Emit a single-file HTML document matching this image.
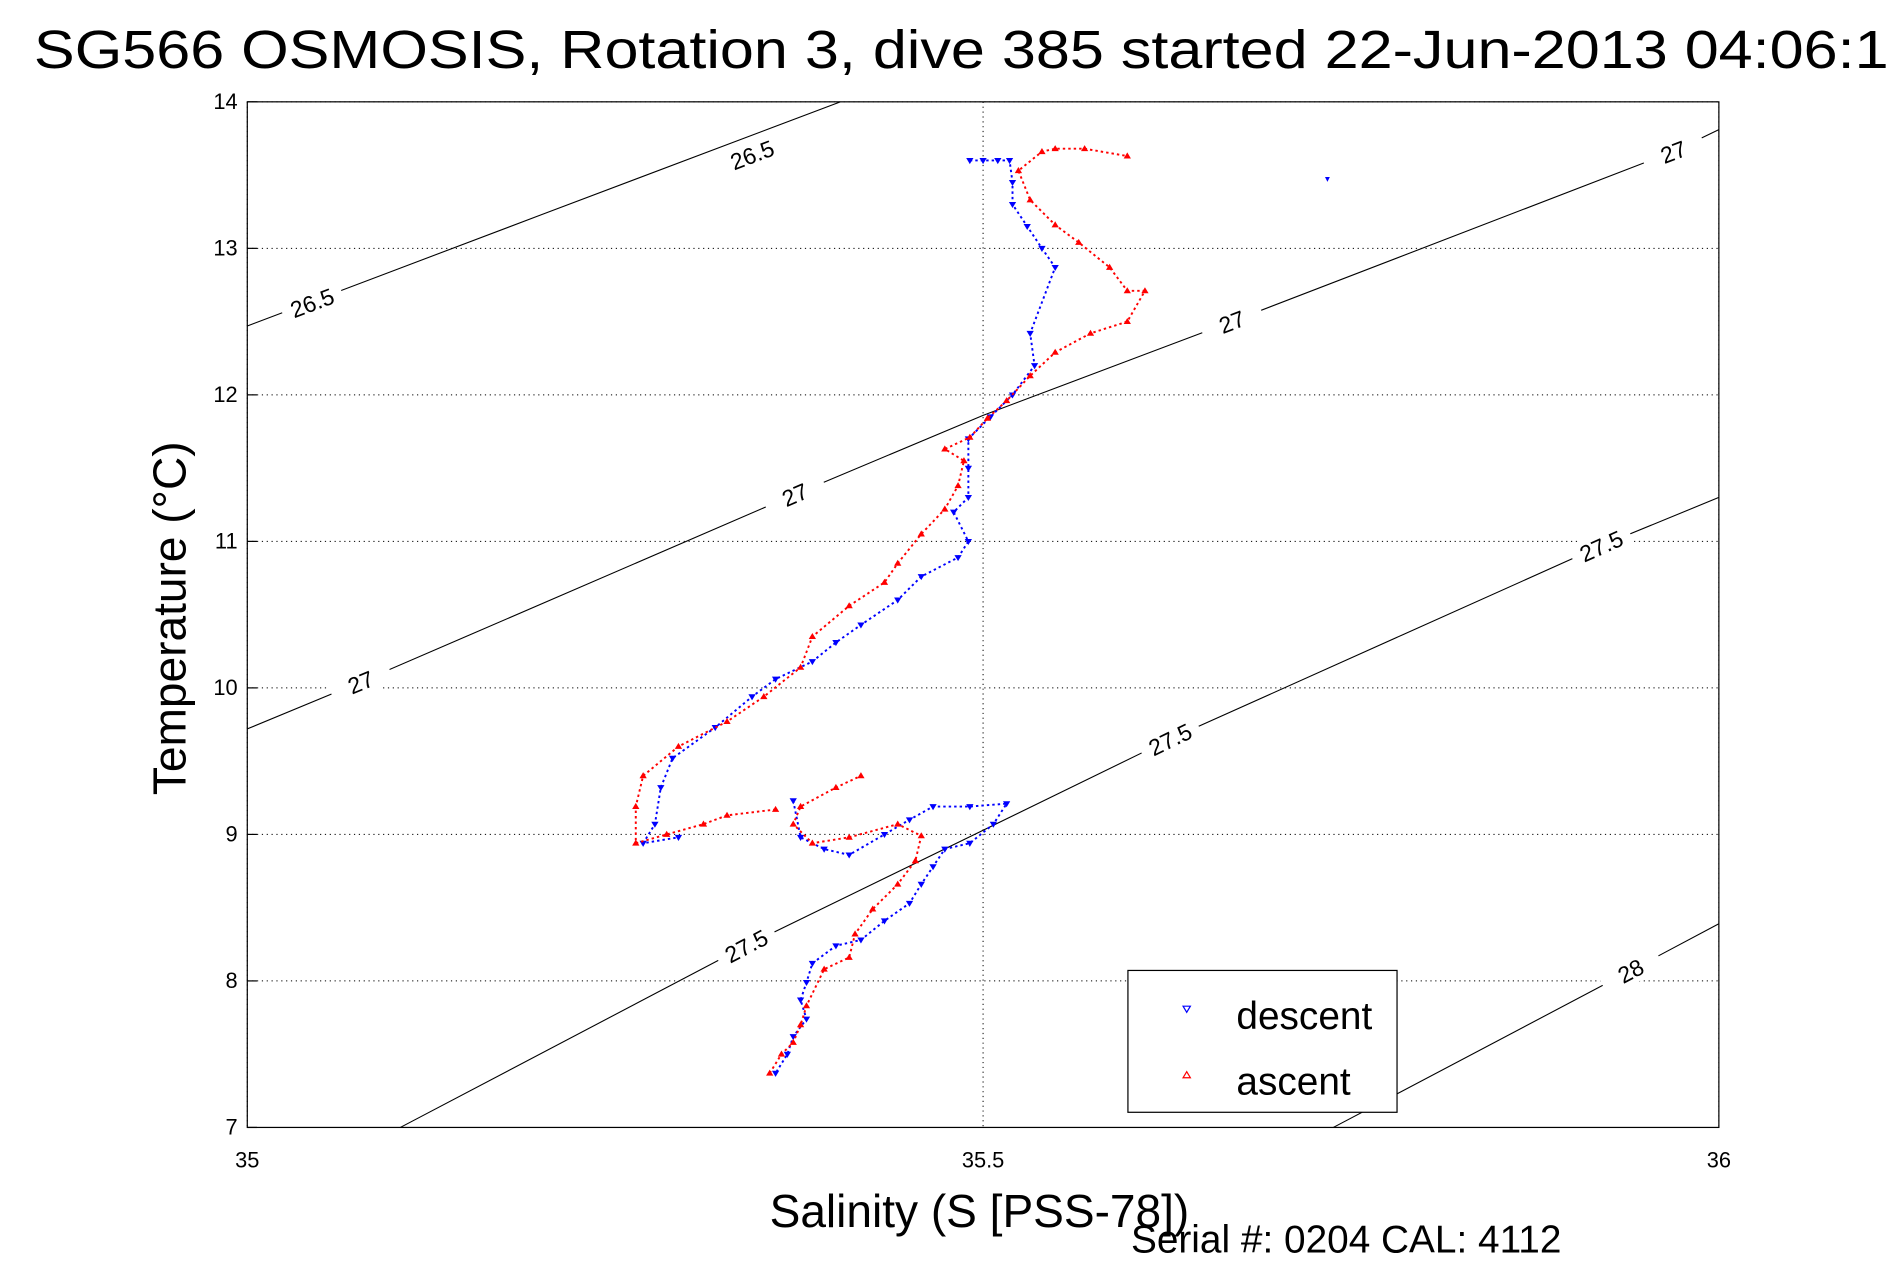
<!DOCTYPE html>
<html><head><meta charset="utf-8"><style>
html,body{margin:0;padding:0;background:#fff;}
svg{display:block;font-family:"Liberation Sans",sans-serif;}
</style></head><body>
<svg id="chart" width="1891" height="1262" viewBox="0 0 1560 1041" preserveAspectRatio="none" xmlns="http://www.w3.org/2000/svg">
<rect x="0" y="0" width="1560" height="1041" fill="#fff"/>
<text x="28" y="56" font-size="44" fill="#000" textLength="1530" lengthAdjust="spacingAndGlyphs">SG566 OSMOSIS, Rotation 3, dive 385 started 22-Jun-2013 04:06:1</text>
<g id="grid"></g>
<g id="contours"></g>
<g id="series"></g>
<g id="axes"></g>
<text x="808" y="1012" font-size="38" text-anchor="middle">Salinity (S [PSS-78])</text>
<text transform="translate(153,510) rotate(-90)" font-size="38" text-anchor="middle">Temperature (°C)</text>
<text x="933" y="1033" font-size="32">Serial #: 0204  CAL: 4112</text>
<g>
<rect x="930.5" y="800.5" width="222" height="117" fill="#fff" stroke="#000" stroke-width="1"/>
<path d="M976,830 L982,830 L979,835 Z" fill="none" stroke="#00f" stroke-width="1"/>
<text x="1020" y="849" font-size="32">descent</text>
<path d="M976,889 L982,889 L979,884 Z" fill="none" stroke="#f00" stroke-width="1"/>
<text x="1020" y="903" font-size="32">ascent</text>
</g>
</svg>
<script>
const xTicks=[35,35.5,36];
const yTicks=[7,8,9,10,11,12,13,14];
const descentS=[35.491,35.500,35.510,35.518,35.52,35.52,35.53,35.54,35.549,35.532,35.535,35.52,35.505,35.49,35.49,35.49,35.48,35.49,35.483,35.458,35.442,35.417,35.40,35.384,35.359,35.343,35.318,35.289,35.281,35.277,35.269,35.293];
const descentT=[13.6,13.6,13.6,13.6,13.45,13.3,13.15,13.0,12.87,12.42,12.2,12.0,11.85,11.7,11.5,11.3,11.2,11.0,10.89,10.76,10.6,10.43,10.31,10.18,10.06,9.94,9.73,9.52,9.32,9.07,8.94,8.98];
const descent2S=[35.371,35.376,35.392,35.409,35.433,35.45,35.466,35.491,35.516,35.507,35.491,35.474,35.466,35.458,35.45,35.433,35.417,35.40,35.384,35.38,35.376,35.38,35.371,35.367,35.359];
const descent2T=[9.23,8.98,8.90,8.86,9.0,9.1,9.19,9.19,9.21,9.07,8.94,8.9,8.78,8.66,8.53,8.41,8.28,8.24,8.12,7.99,7.87,7.74,7.62,7.50,7.37];
const strayS=[35.734];
const strayT=[13.47];
const ascentS=[35.355,35.363,35.371,35.376,35.38,35.392,35.409,35.413,35.425,35.442,35.454,35.458,35.442,35.409,35.384,35.371,35.376,35.40,35.417];
const ascentT=[7.37,7.5,7.58,7.70,7.83,8.08,8.16,8.32,8.49,8.66,8.82,8.99,9.07,8.98,8.94,9.07,9.19,9.32,9.4];
const ascent2S=[35.359,35.326,35.31,35.285,35.264,35.264,35.269,35.293,35.326,35.351,35.376,35.384,35.409,35.433,35.442,35.458,35.474,35.483,35.487,35.474,35.491,35.503,35.516,35.532,35.549,35.573,35.598,35.61,35.598,35.586,35.565,35.549,35.532,35.524,35.54,35.549,35.569,35.598];
const ascent2T=[9.17,9.13,9.07,9.0,8.94,9.19,9.40,9.60,9.77,9.94,10.14,10.35,10.56,10.72,10.85,11.05,11.22,11.38,11.55,11.63,11.71,11.84,11.96,12.13,12.29,12.42,12.50,12.71,12.71,12.87,13.04,13.16,13.33,13.53,13.66,13.68,13.68,13.63];
const contourLevels=["26.5","27","27.5","28"];
const contourS=[[35,35.2,35.403],[35,35.077,35.372,35.5,35.669,35.969,36],[35.104,35.339,35.627,35.92,36],[35.738,35.94,36]];
const contourT=[[12.47,13.23,14],[9.72,10.04,11.32,11.86,12.50,13.66,13.81],[7,8.24,9.65,10.97,11.30],[7,8.07,8.39]];
const labelS=[[35.044,35.343],[35.077,35.372,35.669,35.969],[35.339,35.627,35.92],[35.94]];
const labelT=[[12.63,13.64],[10.04,11.32,12.50,13.66],[8.24,9.65,10.97],[8.07]];

const L=204,R=1418,T=84,B=930;
const xs=s=>L+(s-35)/(36-35)*(R-L);
const ys=t=>B-(t-7)/(14-7)*(B-T);
const NS='http://www.w3.org/2000/svg';
function mk(tag,parent,attrs){const e=document.createElementNS(NS,tag);for(const k in attrs)e.setAttribute(k,attrs[k]);parent.appendChild(e);return e;}
const grid=document.getElementById('grid'),axes=document.getElementById('axes'),ser=document.getElementById('series'),con=document.getElementById('contours');
xTicks.forEach(v=>{
 const g=mk('line',grid,{x1:xs(v),x2:xs(v),y1:T,y2:B,stroke:'#000','stroke-width':0.8,'stroke-dasharray':'1,3'});
 
 
 const t=mk('text',axes,{x:xs(v),y:B+33,'font-size':18,'text-anchor':'middle'});t.textContent=String(v);
 
 
});
yTicks.forEach(v=>{
 const g=mk('line',grid,{x1:L,x2:R,y1:ys(v),y2:ys(v),stroke:'#000','stroke-width':0.8,'stroke-dasharray':'1,3'});
 
 
 mk('line',axes,{x1:L,x2:L+8,y1:ys(v),y2:ys(v),stroke:'#000'});
 const t=mk('text',axes,{x:L-8,y:ys(v)+6,'font-size':18,'text-anchor':'end'});t.textContent=String(v);
 
 
});
const box=mk('rect',axes,{x:L,y:T,width:R-L,height:B-T,fill:'none',stroke:'#000','stroke-width':1});


contourS.forEach((arr,i)=>{
 const pts=arr.map((s,j)=>xs(s)+','+ys(contourT[i][j])).join(' ');
 const p=mk('polyline',con,{points:pts,fill:'none',stroke:'#000','stroke-width':0.9});
 
 
 labelS[i].forEach((s,j)=>{
  const x=xs(s),y=ys(labelT[i][j]);
  const k=Math.min(arr.length-2,Math.max(0,arr.findIndex((v,q)=>q<arr.length-1&&arr[q+1]>=s)));
  const ang=Math.atan2(ys(contourT[i][k+1])-ys(contourT[i][k]),xs(arr[k+1])-xs(arr[k]))*180/Math.PI;
  const g=mk('g',con,{transform:`translate(${x},${y}) rotate(${ang})`});
  mk('rect',g,{x:-26,y:-11,width:52,height:22,fill:'#fff'});
  const t=mk('text',g,{x:0,y:7,'font-size':19,'text-anchor':'middle'});t.textContent=contourLevels[i];
  
  
 });
});
function series(S,Tv,color,down,name){
 const pts=S.map((s,j)=>xs(s)+','+ys(Tv[j])).join(' ');
 const pl=mk('polyline',ser,{points:pts,fill:'none',stroke:color,'stroke-width':1.6,'stroke-dasharray':'2,2.5'});
 
 
 S.forEach((s,j)=>{
  const x=xs(s),y=ys(Tv[j]);
  const d=down?`M${x-3},${y-2} L${x+3},${y-2} L${x},${y+3} Z`:`M${x-3},${y+2} L${x+3},${y+2} L${x},${y-3} Z`;
  const m=mk('path',ser,{d:d,fill:color});
  
  
 });
}
series(descentS,descentT,'#00f',true,'descent');
series(descent2S,descent2T,'#00f',true,'descent');
series(ascentS,ascentT,'#f00',false,'ascent');
series(ascent2S,ascent2T,'#f00',false,'ascent');
strayS.forEach((s,j)=>{const x=xs(s),y=ys(strayT[j]);
 const m=mk('path',ser,{d:`M${x-2},${y-2} L${x+2},${y-2} L${x},${y+2} Z`,fill:'#00f'});
 
 
});
</script>
</body></html>
